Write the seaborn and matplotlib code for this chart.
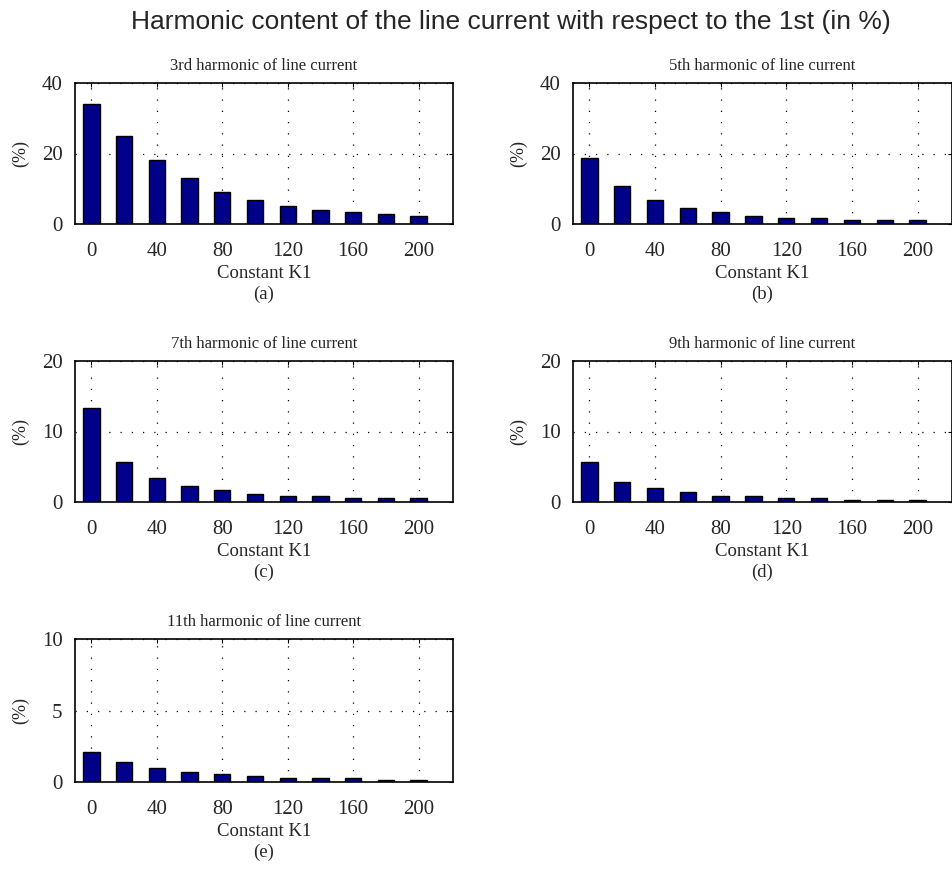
import numpy as np
import pandas as pd
import matplotlib
matplotlib.use("Agg")
import matplotlib.pyplot as plt
import seaborn as sns

# Konstante K1 (x-Achse)
k1 = [0, 20, 40, 60, 80, 100, 120, 140, 160, 180, 200]

# Oberschwingungsanteile in %
h3 = [34.1, 25.0, 18.2, 13.1, 9.1, 6.8, 5.1, 4.0, 3.4, 2.8, 2.4]
h5 = [18.7, 10.8, 6.8, 4.6, 3.4, 2.4, 1.8, 1.8, 1.2, 1.2, 1.2]
h7 = [13.3, 5.7, 3.4, 2.3, 1.7, 1.1, 0.85, 0.85, 0.57, 0.57, 0.57]
h9 = [5.7, 2.8, 2.0, 1.4, 0.85, 0.85, 0.57, 0.57, 0.28, 0.28, 0.28]
h11 = [2.07, 1.38, 0.96, 0.68, 0.54, 0.40, 0.26, 0.26, 0.26, 0.12, 0.12]

titles = ["3rd harmonic of line current", "5th harmonic of line current",
          "7th harmonic of line current", "9th harmonic of line current",
          "11th harmonic of line current"]
letters = ["(a)", "(b)", "(c)", "(d)", "(e)"]
ymax = [40, 40, 20, 20, 10]
reihen = [h3, h5, h7, h9, h11]

sns.set_style("white")
plt.rcParams['font.family'] = ['Liberation Serif', 'DejaVu Serif']

W, H = 953, 869
fig = plt.figure(figsize=(W / 100, H / 100), dpi=100)

# Positionen in Pixeln: (links, oben, breite, hoehe)
boxen = [(75, 83, 378, 141), (573, 83, 379, 141),
         (75, 361, 378, 141), (573, 361, 379, 141),
         (75, 639, 378, 143)]

for werte, titel, buchst, ym, (l, t, w, h) in zip(reihen, titles, letters, ymax, boxen):
    ax = fig.add_axes([l / W, 1 - (t + h) / H, w / W, h / H])
    df = pd.DataFrame({"K1": k1, "wert": werte})
    sns.barplot(data=df, x="K1", y="wert", native_scale=True, width=0.5,
                color="#000088", edgecolor="black", linewidth=1.0,
                saturation=1, ax=ax)
    ax.set_xlim(-10, 221)
    ax.set_ylim(0, ym)
    ax.set_xticks(range(0, 201, 40))
    ax.set_yticks([0, ym / 2, ym])
    ax.set_yticklabels([str(int(v)) for v in [0, ym / 2, ym]])
    ax.grid(True, color="black", linestyle=(0, (1, 8)), linewidth=0.9)
    ax.set_axisbelow(True)
    for s in ax.spines.values():
        s.set_visible(True)
        s.set_color("black")
        s.set_linewidth(1.2)
    ax.tick_params(direction="in", length=3, labelsize=15, color="black",
                   top=True, right=True)
    ax.tick_params(axis="x", pad=13)
    ax.tick_params(axis="y", pad=9)
    ax.set_title(titel, fontsize=12, pad=9)
    ax.set_xlabel("Constant K1\n" + buchst, fontsize=13.5, linespacing=1.25, labelpad=3)
    ax.set_ylabel("(%)", fontsize=13, labelpad=9)

fig.suptitle("Harmonic content of the line current with respect to the 1st (in %)",
             fontsize=19, x=0.536, y=0.988, family=['Liberation Sans', 'DejaVu Sans'])

fig.savefig("out.png", dpi=100, facecolor="white")
